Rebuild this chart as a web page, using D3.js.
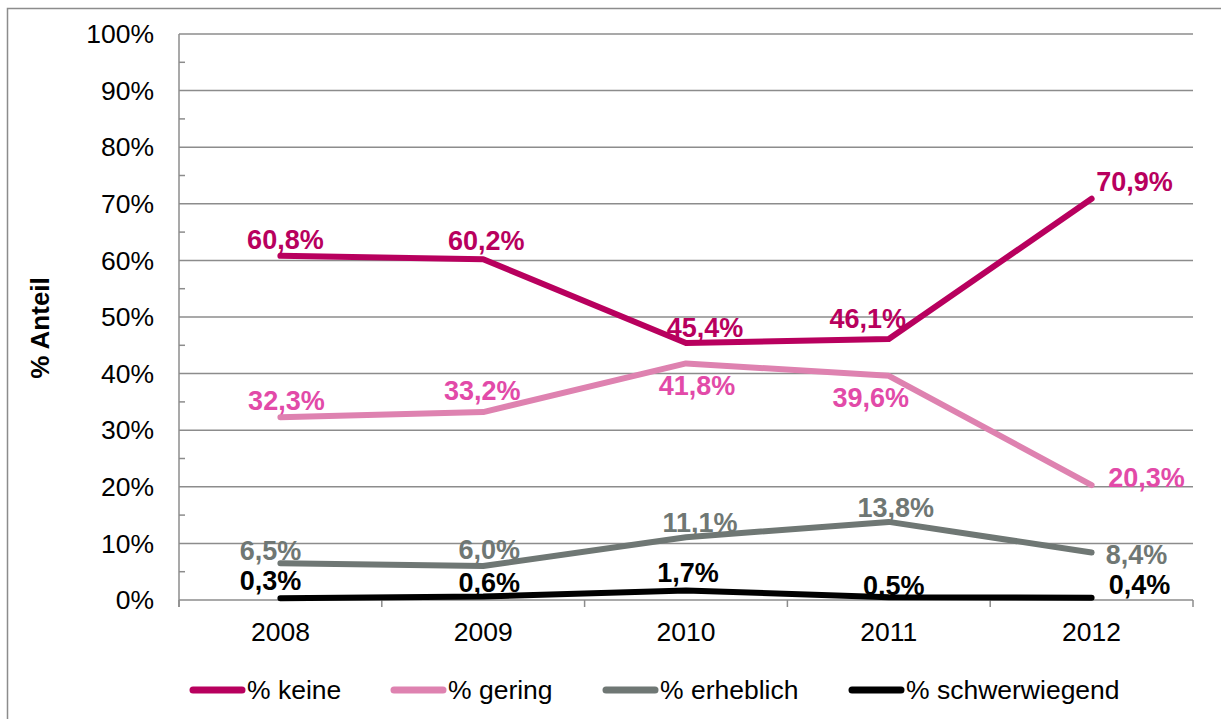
<!DOCTYPE html>
<html>
<head>
<meta charset="utf-8">
<script src="https://cdn.jsdelivr.net/npm/d3@7"></script>
<style>
  body { margin: 0; background: #fff; }
  svg { font-family: "Liberation Sans", Arial, sans-serif; }
</style>
</head>
<body>
<div id="chart"></div>
<script>
var years = ["2008", "2009", "2010", "2011", "2012"];
var seriesNames = ["% keine", "% gering", "% erheblich", "% schwerwiegend"];
var keine = [60.8, 60.2, 45.4, 46.1, 70.9];
var gering = [32.3, 33.2, 41.8, 39.6, 20.3];
var erheblich = [6.5, 6.0, 11.1, 13.8, 8.4];
var schwerwiegend = [0.3, 0.6, 1.7, 0.5, 0.4];
var yTicks = [0, 10, 20, 30, 40, 50, 60, 70, 80, 90, 100];

var svgWidth = 1221;
var svgHeight = 719;

var plot = { left: 179, right: 1193, top: 34, bottom: 600 };

var lineColors = ["#b8005e", "#de82b0", "#6f7774", "#000000"];
var labelColors = ["#b8005e", "#e24aa8", "#6f7774", "#000000"];

// label offsets (dx, dy) from each point, like the manual placement in the original
var labelOffsets = [
    [[5, -16], [3, -19], [19, -15], [-21, -21], [43, -17]],
    [[6, -17], [-1, -22], [11, 22], [-18, 22], [55, -8]],
    [[-10, -13], [6, -16], [14, -15], [7, -14], [45, 2]],
    [[-10, -18], [6, -14], [2, -18], [5, -12], [48, -13]]
];

var series = [keine, gering, erheblich, schwerwiegend];

var svg = d3.select("#chart")
    .append("svg")
    .attr("width", svgWidth)
    .attr("height", svgHeight);

// outer frame
svg.append("rect")
    .attr("x", 7.5)
    .attr("y", 8.5)
    .attr("width", svgWidth + 20)
    .attr("height", svgHeight + 20)
    .attr("fill", "none")
    .attr("stroke", "#8c8c8c")
    .attr("stroke-width", 1.5);

var xScale = d3.scalePoint()
    .domain(years)
    .range([plot.left, plot.right])
    .padding(0.5);

var yScale = d3.scaleLinear()
    .domain([0, 100])
    .range([plot.bottom, plot.top]);

var step = xScale.step();

// gridlines
svg.append("g")
    .selectAll("line")
    .data(yTicks)
    .enter()
    .append("line")
    .attr("x1", plot.left)
    .attr("x2", plot.right)
    .attr("y1", d => yScale(d))
    .attr("y2", d => yScale(d))
    .attr("stroke", "#8c8c8c")
    .attr("stroke-width", 1.5);

// minor ticks on y axis
svg.append("g")
    .selectAll("line")
    .data(d3.range(5, 100, 10))
    .enter()
    .append("line")
    .attr("x1", plot.left)
    .attr("x2", plot.left + 6)
    .attr("y1", d => yScale(d))
    .attr("y2", d => yScale(d))
    .attr("stroke", "#8c8c8c")
    .attr("stroke-width", 1.5);

// y axis line
svg.append("line")
    .attr("x1", plot.left)
    .attr("x2", plot.left)
    .attr("y1", plot.top)
    .attr("y2", plot.bottom + 7)
    .attr("stroke", "#8c8c8c")
    .attr("stroke-width", 1.5);

// x ticks between categories
svg.append("g")
    .selectAll("line")
    .data(d3.range(years.length + 1))
    .enter()
    .append("line")
    .attr("x1", i => plot.left + i * step)
    .attr("x2", i => plot.left + i * step)
    .attr("y1", plot.bottom)
    .attr("y2", plot.bottom + 7)
    .attr("stroke", "#8c8c8c")
    .attr("stroke-width", 1.5);

// y tick labels
svg.append("g")
    .selectAll("text")
    .data(yTicks)
    .enter()
    .append("text")
    .attr("x", 154)
    .attr("y", d => yScale(d))
    .attr("dy", "0.35em")
    .attr("text-anchor", "end")
    .attr("font-size", 26.5)
    .attr("fill", "#000")
    .text(d => d + "%");

// x tick labels
svg.append("g")
    .selectAll("text")
    .data(years)
    .enter()
    .append("text")
    .attr("x", d => xScale(d))
    .attr("y", 632)
    .attr("dy", "0.35em")
    .attr("text-anchor", "middle")
    .attr("font-size", 26.5)
    .attr("fill", "#000")
    .text(d => d);

// y axis title
svg.append("text")
    .attr("transform", "translate(40, 328) rotate(-90)")
    .attr("dy", "0.35em")
    .attr("text-anchor", "middle")
    .attr("font-size", 26)
    .attr("font-weight", "bold")
    .text("% Anteil");

var line = d3.line()
    .x((d, i) => xScale(years[i]))
    .y(d => yScale(d));

series.forEach(function (values, s) {
    svg.append("path")
        .datum(values)
        .attr("d", line)
        .attr("fill", "none")
        .attr("stroke", lineColors[s])
        .attr("stroke-width", 6)
        .attr("stroke-linecap", "round")
        .attr("stroke-linejoin", "round");
});

series.forEach(function (values, s) {
    svg.append("g")
        .selectAll("text")
        .data(values)
        .enter()
        .append("text")
        .attr("x", (d, i) => xScale(years[i]) + labelOffsets[s][i][0])
        .attr("y", (d, i) => yScale(d) + labelOffsets[s][i][1])
        .attr("dy", "0.35em")
        .attr("text-anchor", "middle")
        .attr("font-size", 27)
        .attr("font-weight", "bold")
        .attr("fill", labelColors[s])
        .text(d => d.toFixed(1).replace(".", ",") + "%");
});

// legend
var legendX = [190, 391, 603, 849];
var legend = svg.append("g");
seriesNames.forEach(function (name, s) {
    legend.append("line")
        .attr("x1", legendX[s] + 3)
        .attr("x2", legendX[s] + 52)
        .attr("y1", 690)
        .attr("y2", 690)
        .attr("stroke", lineColors[s])
        .attr("stroke-width", 7)
        .attr("stroke-linecap", "round");
    legend.append("text")
        .attr("x", legendX[s] + 57)
        .attr("y", 690)
        .attr("dy", "0.35em")
        .attr("font-size", 26.5)
        .attr("fill", "#000")
        .text(name);
});
</script>
</body>
</html>
